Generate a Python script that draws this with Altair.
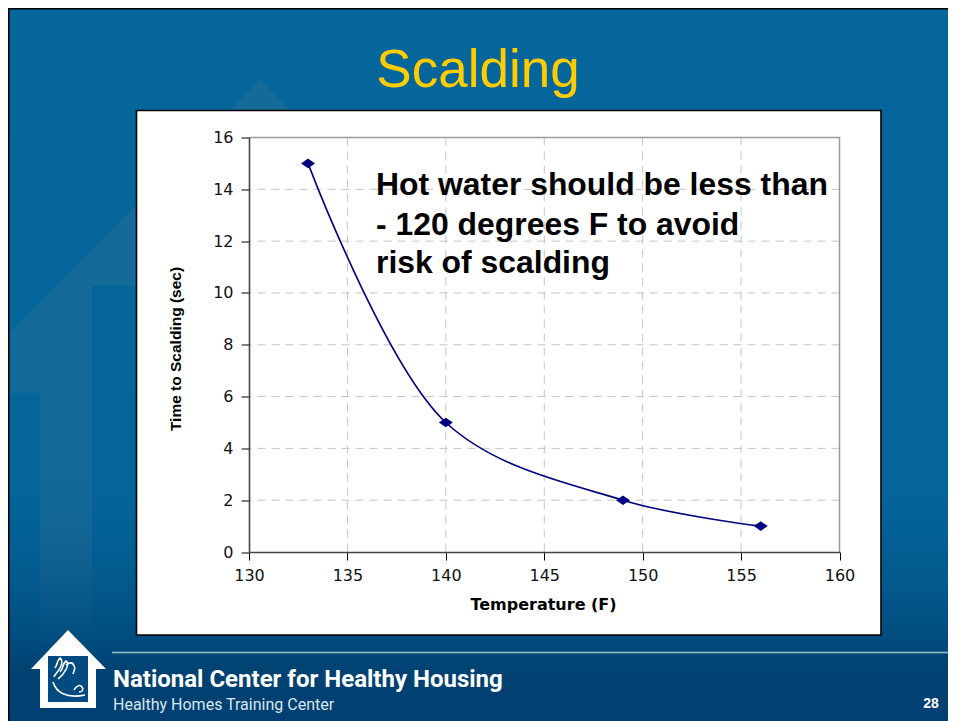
import altair as alt
import pandas as pd

# --- chart values ---
temperature_f = [133, 140, 149, 156]
seconds_to_scald = [15, 5, 2, 1]
x_grid = [135, 140, 145, 150, 155]
y_grid = [2, 4, 6, 8, 10, 12, 14]
x_ticks = [130, 135, 140, 145, 150, 155, 160]
y_ticks = [0, 2, 4, 6, 8, 10, 12, 14, 16]
note_lines = ["Hot water should be less than", "- 120 degrees F to avoid", "risk of scalding"]

# --- layout: view origin in page pixels ---
VX, VY = 249.0, 137.5
W, H = 590.5, 414.5
RIGHT, BOTTOM = 948, 721  # widest drawing the page keeps at full scale
SANS = "Liberation Sans"
LOGO_FONT = "Roboto"
one = pd.DataFrame({"a": [0]})


def shape(path, **kw):
    """Slide decoration drawn in page pixels (size 4 = scale 1 for a custom symbol path)."""
    kw.setdefault("opacity", 1)
    return alt.Chart(one).mark_point(shape=path, size=4, **kw).encode(
        x=alt.value(-VX), y=alt.value(-VY)
    )


def label(txt, px, py, **kw):
    return alt.Chart(pd.DataFrame({"t": [txt]})).mark_text(baseline="alphabetic", **kw).encode(
        text="t:N", x=alt.value(px - VX), y=alt.value(py - VY)
    )


bg_grad = alt.LinearGradient(
    gradient="linear", x1=0, y1=0, x2=0, y2=1,
    stops=[
        alt.GradientStop(offset=0, color="#04669a"),
        alt.GradientStop(offset=0.68, color="#04659b"),
        alt.GradientStop(offset=0.8, color="#035a8e"),
        alt.GradientStop(offset=0.88, color="#014d80"),
        alt.GradientStop(offset=0.93, color="#014272"),
        alt.GradientStop(offset=1, color="#013f72"),
    ],
)
house_grad = alt.LinearGradient(
    gradient="linear", x1=0, y1=0, x2=0, y2=1,
    stops=[
        alt.GradientStop(offset=0, color="rgba(160,150,130,0.11)"),
        alt.GradientStop(offset=0.8, color="rgba(160,150,130,0.09)"),
        alt.GradientStop(offset=1, color="rgba(160,150,130,0)"),
    ],
)

background = shape("M8 8H956V721H8Z", filled=True, fill=bg_grad, strokeWidth=0)
house = shape(
    "M260 80L8 335V393H40V650H92V286H400V110H290Z",
    filled=True, fill=house_grad, strokeWidth=0,
)
border = shape("M8.6 721V8.7H956", filled=False, stroke="#000000", strokeWidth=1.8)
card = shape("M136.5 110.5H881V635H136.5Z", filled=True, fill="#ffffff", stroke="#000000", strokeWidth=1.6)
frame = shape("M249 137.5H839.5V552", filled=False, stroke="#9a9a9a", strokeWidth=1.5)
footer_rule = shape("M112 652.5H956", filled=False, stroke="#9dbfcc", strokeWidth=1.3)
logo_house = shape(
    "M68 630L106 669H96V708H40V669H31Z", filled=True, fill="#ffffff", strokeWidth=0
)
logo_square = shape("M48 656H88V702H48Z", filled=True, fill="#024a7f", strokeWidth=0)
logo_art = shape(
    "M53 682C56 692 66 699 85 695"
    "M55 668C58 664 56 662 60 658C63 660 62 664 60 668C58 672 55 674 54 677"
    "M60 672C64 668 62 664 66 661C69 663 67 668 65 671C63 675 60 677 58 679"
    "M66 665C70 662 73 662 74 666C76 668 74 671 73 674"
    "M74 690C76 686 80 684 82 687C84 690 82 692 79 692",
    filled=False, stroke="#ffffff", strokeWidth=1.6,
)

df = pd.DataFrame({"temp": temperature_f, "sec": seconds_to_scald})
x_scale = alt.Scale(domain=[130, 160], nice=False, zero=False)
y_scale = alt.Scale(domain=[0, 16], nice=False, zero=True)
x_enc = alt.X(
    "temp:Q", scale=x_scale,
    axis=alt.Axis(
        title="Temperature (F)", values=x_ticks, grid=False, zindex=1, labelFlush=False,
        domainColor="#444444", domainWidth=1.6, tickColor="#000000", tickSize=8, tickWidth=1,
        labelFont="DejaVu Sans", labelFontSize=16, labelColor="#111111", labelPadding=7,
        titleFont="DejaVu Sans", titleFontSize=16, titleFontWeight="bold", titleColor="#000000",
        titleX=294, titleY=57, titleAlign="center", titleBaseline="alphabetic",
    ),
)
y_enc = alt.Y(
    "sec:Q", scale=y_scale,
    axis=alt.Axis(
        title="Time to Scalding (sec)", values=y_ticks, grid=False, zindex=1, labelFlush=False,
        domainColor="#444444", domainWidth=1.6, tickColor="#000000", tickSize=8, tickWidth=1,
        labelFont="DejaVu Sans", labelFontSize=16, labelColor="#111111", labelPadding=8,
        titleFont=SANS, titleFontSize=15.5, titleFontWeight="bold", titleColor="#000000",
        titleX=-74, titleY=211, titleAngle=-90, titleAlign="center", titleBaseline="middle",
    ),
)

grid_dash = [8, 6]
v_grid = alt.Chart(pd.DataFrame({"temp": x_grid})).mark_rule(
    color="#c4c4c4", strokeWidth=1, strokeDash=grid_dash
).encode(x=x_enc)
h_grid = alt.Chart(pd.DataFrame({"sec": y_grid})).mark_rule(
    color="#c4c4c4", strokeWidth=1, strokeDash=grid_dash
).encode(y=y_enc)

line = alt.Chart(df).mark_line(color="#000080", strokeWidth=1.6, interpolate="catmull-rom").encode(
    x=x_enc, y=y_enc
)
points = alt.Chart(df).mark_point(
    shape="M-7 0L0 -4.8L7 0L0 4.8Z", size=4, filled=True, fill="#000080", opacity=1, strokeWidth=0
).encode(x=x_enc, y=y_enc)

title = label("Scalding", 478, 87, font=SANS, fontSize=53, color="#ffcc00", align="center")
note = [
    label(t, 376, py, font=SANS, fontSize=31.9, fontWeight="bold", color="#000000", align="left")
    for t, py in zip(note_lines, [195, 235, 273])
]
org = label("National Center for Healthy Housing", 113, 687, font=LOGO_FONT, fontSize=24,
            fontWeight="bold", color="#ffffff", align="left")
sub = label("Healthy Homes Training Center", 113, 710, font=LOGO_FONT, fontSize=16,
            color="#d8e6ee", align="left")
page_no = label("28", 931, 708, font=SANS, fontSize=14, fontWeight="bold", color="#ffffff", align="center")

chart = alt.layer(
    background, house, border, card, footer_rule, logo_house, logo_square, logo_art,
    title, org, sub, page_no,
    v_grid, h_grid, frame, line, points, *note,
).properties(
    width=W, height=H,
    padding={"left": VX - 8, "top": VY - 8, "right": RIGHT - VX - W, "bottom": BOTTOM - VY - H},
    autosize=alt.AutoSizeParams(type="none"),
    background="#ffffff",
).configure_view(stroke=None)

chart.save("out.html", embed_options={"renderer": "svg", "actions": False})
